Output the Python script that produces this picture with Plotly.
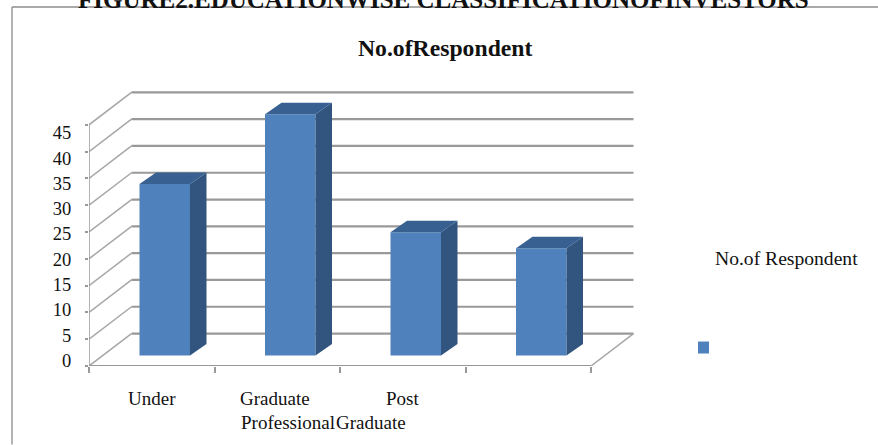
import plotly.graph_objects as go

# ---- data ----
values = [32, 45, 23, 20]
category_lines = [["Under"], ["Graduate", "Professional"], ["Post", "Graduate"], []]
y_ticks = [0, 5, 10, 15, 20, 25, 30, 35, 40, 45]
page_title = "FIGURE2.EDUCATIONWISE CLASSIFICATIONOFINVESTORS"
chart_title = "No.ofRespondent"
series_name = "No.of Respondent"

# ---- styling and geometry ----
W, H = 878, 445
L, B = 89, 78.5          # plot area: left edge and bottom margin
PX_PER_CAT = 125.5
PX_PER_VAL = 5.367
DEPTH_X = 42.5 / PX_PER_CAT    # floor depth, in x units
DEPTH_Y = 32.5 / PX_PER_VAL    # floor depth, in value units
BAR_W = 50.5 / PX_PER_CAT
BAR_SHIFT_X = 13 / PX_PER_CAT
BAR_SHIFT_Y = 10.5 / PX_PER_VAL
BAR_DX = 16.5 / PX_PER_CAT
BAR_DY = 11.5 / PX_PER_VAL
LABEL_PX_PER_VAL = 5.067       # tick labels are spaced tighter than the ticks
LABEL_ZERO_PX = 361
FRONT, SIDE, TOP = "#4f81bd", "#32557f", "#386090"
GRID, SERIF = "#999999", "Liberation Serif"

n = len(values)
plot_w, plot_h = W - L, H - B
def px(x): return (x - L) / plot_w
def py(y): return (H - B - y) / plot_h

fig = go.Figure()

# front faces
centers = [i + 0.5 + BAR_SHIFT_X for i in range(n)]
fig.add_trace(go.Bar(x=centers, y=values, base=[BAR_SHIFT_Y] * n, width=BAR_W,
                     marker=dict(color=FRONT, line=dict(width=0)),
                     name=series_name, showlegend=False, hoverinfo="skip"))

# side and top faces, derived from the values
for c, v in zip(centers, values):
    x1 = c + BAR_W / 2
    x0 = c - BAR_W / 2
    lo = BAR_SHIFT_Y
    hi = BAR_SHIFT_Y + v
    fig.add_trace(go.Scatter(x=[x1, x1 + BAR_DX, x1 + BAR_DX, x1, x1],
                             y=[lo, lo + BAR_DY, hi + BAR_DY, hi, lo],
                             fill="toself", fillcolor=SIDE, mode="none",
                             showlegend=False, hoverinfo="skip"))
    fig.add_trace(go.Scatter(x=[x0, x1, x1 + BAR_DX, x0 + BAR_DX, x0],
                             y=[hi, hi, hi + BAR_DY, hi + BAR_DY, hi],
                             fill="toself", fillcolor=TOP, mode="none",
                             showlegend=False, hoverinfo="skip"))

# front axis lines
fig.add_trace(go.Scatter(x=[0, n], y=[0, 0], mode="lines", cliponaxis=False,
                         line=dict(color=GRID, width=2), showlegend=False, hoverinfo="skip"))
fig.add_trace(go.Scatter(x=[0, 0], y=[0, y_ticks[-1]], mode="lines", cliponaxis=False,
                         line=dict(color=GRID, width=1.5), showlegend=False, hoverinfo="skip"))
# carrier for the overlaid tick-label axis
fig.add_trace(go.Scatter(x=[0], y=[0], yaxis="y2", mode="none",
                         showlegend=False, hoverinfo="skip"))

shapes = []
# wall gridlines and their oblique returns
for t in y_ticks:
    shapes.append(dict(type="line", xref="x", yref="y", layer="below",
                       x0=DEPTH_X, x1=n + DEPTH_X, y0=t + DEPTH_Y, y1=t + DEPTH_Y,
                       line=dict(color=GRID, width=2.2)))
    shapes.append(dict(type="line", xref="x", yref="y", layer="below",
                       x0=0, x1=DEPTH_X, y0=t, y1=t + DEPTH_Y,
                       line=dict(color="#a6a6a6", width=1.5)))
shapes.append(dict(type="line", xref="x", yref="y", layer="below",
                   x0=n, x1=n + DEPTH_X, y0=0, y1=DEPTH_Y,
                   line=dict(color="#a6a6a6", width=1.5)))
# page frame
frame = dict(color="#8c8c8c", width=1.3)
shapes.append(dict(type="line", xref="paper", yref="paper",
                   x0=px(12), x1=px(12), y0=py(7), y1=py(445), line=frame))
shapes.append(dict(type="line", xref="paper", yref="paper",
                   x0=px(12), x1=px(878), y0=py(7), y1=py(7), line=frame))
# legend swatch
shapes.append(dict(type="rect", xref="paper", yref="paper",
                   x0=px(698), x1=px(709), y0=py(354), y1=py(342),
                   fillcolor=FRONT, line=dict(width=0)))

ann = []
def text(x, y, s, size, bold=False, anchor="center"):
    ann.append(dict(xref="paper", yref="paper", x=px(x), y=py(y), text=f"<b>{s}</b>" if bold else s,
                    showarrow=False, xanchor=anchor, yanchor="middle",
                    font=dict(family=SERIF, size=size, color="#111111"), borderpad=0, borderwidth=0))

text(443, -0.5, page_title, 25, bold=True)
text(445, 48, chart_title, 23.7, bold=True)
text(786.5, 259, series_name, 19.6)
line_y = [399, 423]
line_x = [[152], [275, 288], [402, 371]]
for lines, xs in zip(category_lines, line_x):
    for s, x, y in zip(lines, xs, line_y):
        text(x, y, s, 19)

fig.update_layout(
    width=W, height=H, autosize=False,
    margin=dict(l=L, r=0, t=0, b=B, pad=0),
    paper_bgcolor="white", plot_bgcolor="white",
    showlegend=False, shapes=shapes, annotations=ann, barmode="overlay",
    xaxis=dict(range=[0, plot_w / PX_PER_CAT], tickmode="array", tickvals=list(range(n + 1)),
               ticktext=[""] * (n + 1), ticks="outside", ticklen=6, tickwidth=1.5,
               tickcolor=GRID, showgrid=False, zeroline=False, showline=False, fixedrange=True),
    yaxis=dict(range=[0, plot_h / PX_PER_VAL], tickmode="array", tickvals=y_ticks,
               showticklabels=False, ticks="outside", ticklen=3, tickwidth=1.5,
               tickcolor=GRID, showgrid=False, zeroline=False, showline=False, fixedrange=True),
    yaxis2=dict(overlaying="y", side="left",
                range=[(LABEL_ZERO_PX - plot_h) / LABEL_PX_PER_VAL, LABEL_ZERO_PX / LABEL_PX_PER_VAL],
                tickmode="array", tickvals=y_ticks, ticktext=[str(t) for t in y_ticks],
                ticks="outside", ticklen=13, tickwidth=1, tickcolor="rgba(0,0,0,0)",
                showgrid=False, zeroline=False, showline=False, fixedrange=True,
                tickfont=dict(family=SERIF, size=18.5, color="#111111")),
)

fig.write_html("out.html", config=dict(displayModeBar=False),
               post_script="document.body.style.margin='0';document.body.style.overflow='hidden';")
